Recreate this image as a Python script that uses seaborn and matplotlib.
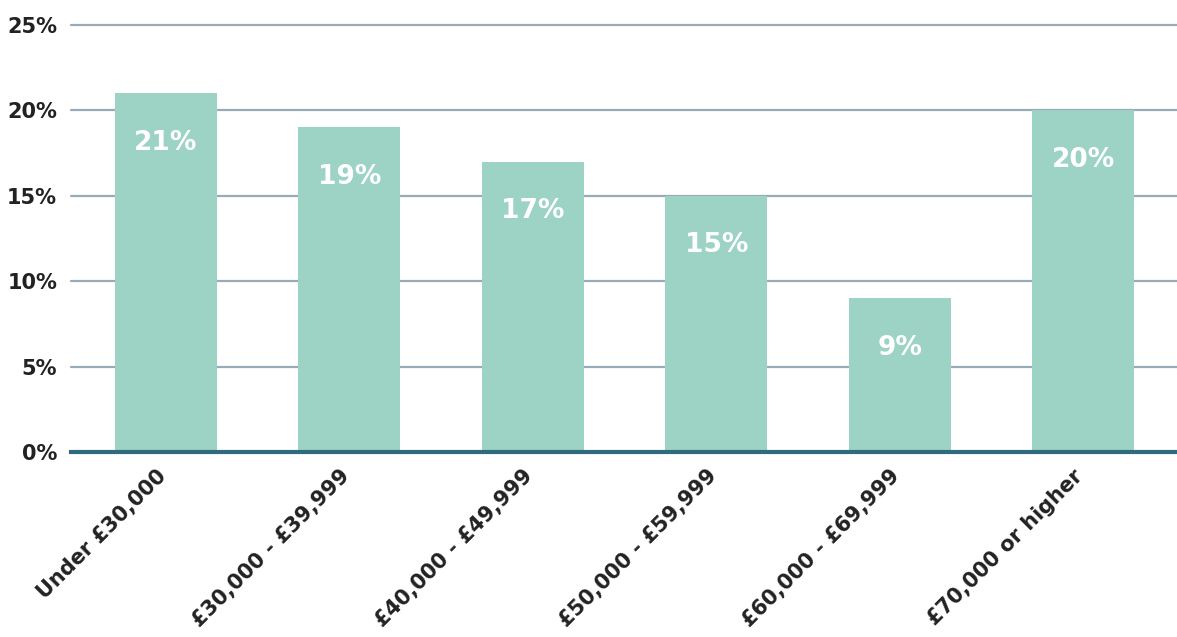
import matplotlib
matplotlib.use("Agg")
import matplotlib.pyplot as plt
import matplotlib.transforms as mtransforms
import seaborn as sns
import pandas as pd

categories = ["Under £30,000", "£30,000 - £39,999", "£40,000 - £49,999",
              "£50,000 - £59,999", "£60,000 - £69,999", "£70,000 or higher"]
values = [21, 19, 17, 15, 9, 20]
labels = ["21%", "19%", "17%", "15%", "9%", "20%"]
yticks = [0, 5, 10, 15, 20, 25]
ytick_labels = ["0%", "5%", "10%", "15%", "20%", "25%"]

sns.set_style("white")
plt.rcParams['font.family'] = ['DejaVu Sans']

df = pd.DataFrame({"cat": categories, "val": values})

fig = plt.figure(figsize=(11.77, 6.37), dpi=100)
ax = fig.add_axes([0.0603, 0.2904, 0.9397, 0.6704])

sns.barplot(data=df, x="cat", y="val", color="#9cd3c5", saturation=1,
            width=0.556, ax=ax, zorder=3, linewidth=0, edgecolor="none")

ax.set_ylim(0, 25)
ax.set_xlim(-0.518, 5.512)
ax.set_yticks(yticks)
ax.set_yticklabels(ytick_labels)
ax.yaxis.grid(True, color="#9aabb8", linewidth=1.6, zorder=0)
for gl in ax.yaxis.get_gridlines():
    gl.set_clip_on(False)
ax.set_axisbelow(True)
for s in ["top", "right", "left"]:
    ax.spines[s].set_visible(False)
ax.spines["bottom"].set_color("#2f6b7c")
ax.spines["bottom"].set_linewidth(3)
ax.spines["bottom"].set_zorder(5)

ax.tick_params(axis="y", length=0, pad=10, labelsize=15, labelcolor="#222222")
ax.tick_params(axis="x", length=0, pad=10, labelsize=15, labelcolor="#222222")
for t in ax.get_yticklabels():
    t.set_fontweight("semibold")
offset = mtransforms.ScaledTranslation(-10 / 100, 0, fig.dpi_scale_trans)
for t in ax.get_xticklabels():
    t.set_rotation(45)
    t.set_ha("right")
    t.set_rotation_mode("anchor")
    t.set_fontweight("semibold")
    t.set_transform(t.get_transform() + offset)
ax.set_xlabel("")
ax.set_ylabel("")

for i, (v, lab) in enumerate(zip(values, labels)):
    ax.text(i, v - 2.9, lab, ha="center", va="center", color="white",
            fontsize=19, fontweight="bold", zorder=6)

fig.savefig("out.png", dpi=100)
